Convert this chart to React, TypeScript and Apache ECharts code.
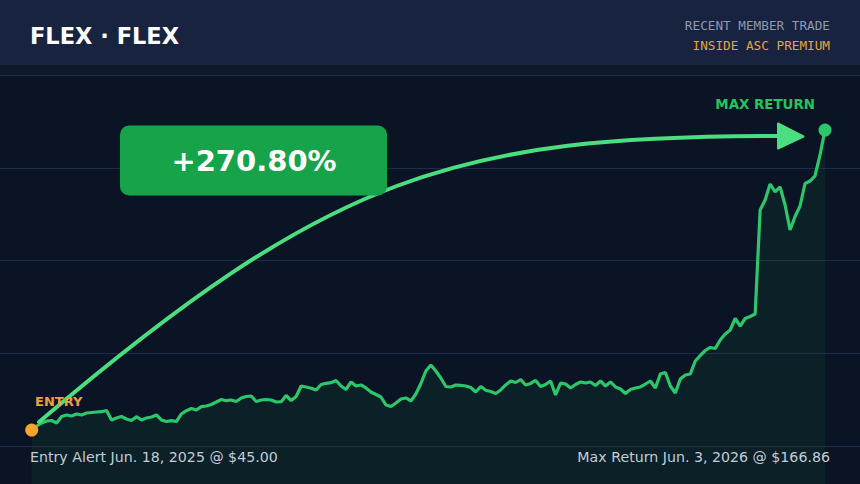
import React, { useEffect, useRef } from 'react';
import * as echarts from 'echarts';

const TICKER = 'FLEX · FLEX';
const HEADER_LINE_1 = 'RECENT MEMBER TRADE';
const HEADER_LINE_2 = 'INSIDE ASC PREMIUM';
const RETURN_LABEL = '+270.80%';
const ENTRY_TAG = 'ENTRY';
const MAX_TAG = 'MAX RETURN';
const ENTRY_TEXT = 'Entry Alert Jun. 18, 2025 @ $45.00';
const MAX_TEXT = 'Max Return Jun. 3, 2026 @ $166.86';

// daily closes, Jun. 18, 2025 -> Jun. 3, 2026
const prices = [
  45.0, 46.63, 47.85, 48.66, 48.87, 47.85, 50.49, 51.1, 50.7, 51.51,
  51.1, 51.91, 52.12, 52.32, 52.44, 52.93, 49.07, 49.88, 50.49, 49.48,
  48.87, 50.41, 49.07, 49.88, 50.29, 51.1, 49.07, 48.46, 48.79, 48.46,
  51.51, 52.85, 53.74, 53.13, 54.47, 54.76, 55.37, 56.38, 57.4, 56.91,
  57.19, 56.59, 58.01, 58.62, 58.82, 56.59, 57.19, 57.4, 57.19, 56.38,
  56.5, 59.02, 56.99, 58.62, 62.88, 62.48, 61.95, 61.26, 63.49, 63.98,
  64.22, 65.12, 62.88, 61.46, 64.51, 62.88, 63.29, 62.07, 60.44, 59.43,
  58.41, 55.16, 54.55, 55.98, 57.6, 58.01, 56.79, 59.63, 63.9, 68.97,
  71.41, 68.97, 66.13, 62.68, 62.48, 63.29, 63.17, 62.88, 62.27, 60.44,
  62.68, 61.13, 60.65, 59.83, 61.26, 63.29, 64.91, 64.3, 65.52, 63.29,
  63.9, 65.12, 62.68, 63.49, 64.91, 59.23, 64.1, 63.69, 62.07, 63.49,
  64.51, 64.1, 64.51, 63.08, 64.91, 62.88, 64.51, 62.48, 61.66, 59.83,
  61.46, 62.07, 62.48, 63.69, 64.91, 62.07, 67.76, 68.37, 62.88, 60.04,
  65.72, 67.35, 67.76, 73.04, 75.27, 77.3, 78.52, 78.11, 81.57, 84.0,
  85.63, 90.3, 87.25, 90.3, 91.11, 92.13, 134.37, 138.44, 144.94, 141.69,
  143.72, 136.41, 126.25, 131.73, 136.0, 145.14, 146.15, 148.19, 156.72, 166.86,
];

// price scale of the plot
const PRICE_MIN = 23.07;
const PRICE_MAX = 189.21;
// background guide lines (separate full-width scale, 1 unit per guide)
const GUIDE_MIN = 0.5903;
const GUIDE_MAX = 5;

const hidden = {
  axisLine: { show: false },
  axisTick: { show: false },
  axisLabel: { show: false },
  splitLine: { show: false },
};

export default function App() {
  const ref = useRef<HTMLDivElement>(null);

  useEffect(() => {
    document.body.style.margin = '0';
    const chart = echarts.init(ref.current!, null, { renderer: 'svg' });
    const days = prices.map((_, i) => String(i));
    const last = prices.length - 1;

    chart.setOption({
      animation: false,
      backgroundColor: '#0b1424',
      grid: [
        { left: 31.7, right: 35, top: 75, bottom: 0, containLabel: false },
        { left: 0, right: 0, top: 75, bottom: 0, containLabel: false },
      ],
      xAxis: [
        { type: 'category', gridIndex: 0, data: days, boundaryGap: false, ...hidden },
        { type: 'value', gridIndex: 1, min: 0, max: 1, ...hidden },
      ],
      yAxis: [
        { type: 'value', gridIndex: 0, min: PRICE_MIN, max: PRICE_MAX, ...hidden },
        {
          type: 'value',
          gridIndex: 1,
          min: GUIDE_MIN,
          max: GUIDE_MAX,
          minInterval: 1,
          maxInterval: 1,
          splitNumber: 5,
          z: 0,
          axisLine: { show: false },
          axisTick: { show: false },
          axisLabel: { show: false },
          splitLine: { show: true, lineStyle: { color: '#1f2b47', width: 1.2 } },
        },
      ],
      series: [
        {
          type: 'line',
          xAxisIndex: 0,
          yAxisIndex: 0,
          data: prices,
          showSymbol: false,
          smooth: false,
          lineStyle: { color: '#2cc66b', width: 3.2 },
          areaStyle: { color: 'rgba(34,197,94,0.1)' },
          z: 3,
        },
        {
          type: 'scatter',
          xAxisIndex: 0,
          yAxisIndex: 0,
          clip: false,
          symbolSize: 13,
          z: 5,
          data: [
            { value: [0, prices[0]], itemStyle: { color: '#f5a52c', opacity: 1 } },
            { value: [last, prices[last]], itemStyle: { color: '#2cc66b', opacity: 1 } },
          ],
        },
      ],
      graphic: [
        { type: 'rect', shape: { x: 0, y: 0, width: 860, height: 65 }, style: { fill: '#17233f' }, z: 1 },
        { type: 'rect', shape: { x: 0, y: 65, width: 860, height: 10 }, style: { fill: '#0e192c' }, z: 1 },
        {
          type: 'text', x: 30, y: 36, z: 10,
          style: { text: TICKER, fill: '#ffffff', font: 'bold 22.5px "DejaVu Sans"', textVerticalAlign: 'middle' },
        },
        {
          type: 'text', x: 830, y: 25, z: 10,
          style: { text: HEADER_LINE_1, fill: '#8e9ab2', font: '12.7px "DejaVu Sans Mono"', textAlign: 'right', textVerticalAlign: 'middle' },
        },
        {
          type: 'text', x: 830, y: 45, z: 10,
          style: { text: HEADER_LINE_2, fill: '#e8a33d', font: '12.7px "DejaVu Sans Mono"', textAlign: 'right', textVerticalAlign: 'middle' },
        },
        {
          type: 'bezierCurve', z: 8,
          shape: { x1: 39, y1: 422, cpx1: 331, cpy1: 174, cpx2: 454, cpy2: 136, x2: 780, y2: 136 },
          style: { stroke: '#4ade80', lineWidth: 4, fill: null, lineCap: 'round' },
        },
        {
          type: 'polygon', z: 8,
          shape: { points: [[778, 123.5], [778, 148.5], [803.5, 136.5]] },
          style: { fill: '#4ade80', stroke: '#4ade80', lineWidth: 2, lineJoin: 'round' },
        },
        {
          type: 'rect', z: 9,
          shape: { x: 120, y: 125.5, width: 267, height: 70, r: 9 },
          style: { fill: '#16a34a' },
        },
        {
          type: 'text', x: 254, y: 161, z: 10,
          style: { text: RETURN_LABEL, fill: '#ffffff', font: 'bold 29px "DejaVu Sans"', textAlign: 'center', textVerticalAlign: 'middle' },
        },
        {
          type: 'text', x: 815, y: 104, z: 10,
          style: { text: MAX_TAG, fill: '#22c55e', font: 'bold 13.4px "DejaVu Sans"', textAlign: 'right', textVerticalAlign: 'middle' },
        },
        {
          type: 'text', x: 35, y: 401, z: 10,
          style: { text: ENTRY_TAG, fill: '#e9a23b', font: 'bold 13px "DejaVu Sans"', textVerticalAlign: 'middle' },
        },
        {
          type: 'text', x: 30, y: 457, z: 10,
          style: { text: ENTRY_TEXT, fill: '#c3ccd8', font: '14.2px "DejaVu Sans"', textVerticalAlign: 'middle' },
        },
        {
          type: 'text', x: 830, y: 457, z: 10,
          style: { text: MAX_TEXT, fill: '#c3ccd8', font: '14.2px "DejaVu Sans"', textAlign: 'right', textVerticalAlign: 'middle' },
        },
      ],
    });

    return () => chart.dispose();
  }, []);

  return <div ref={ref} style={{ width: 860, height: 484 }} />;
}
